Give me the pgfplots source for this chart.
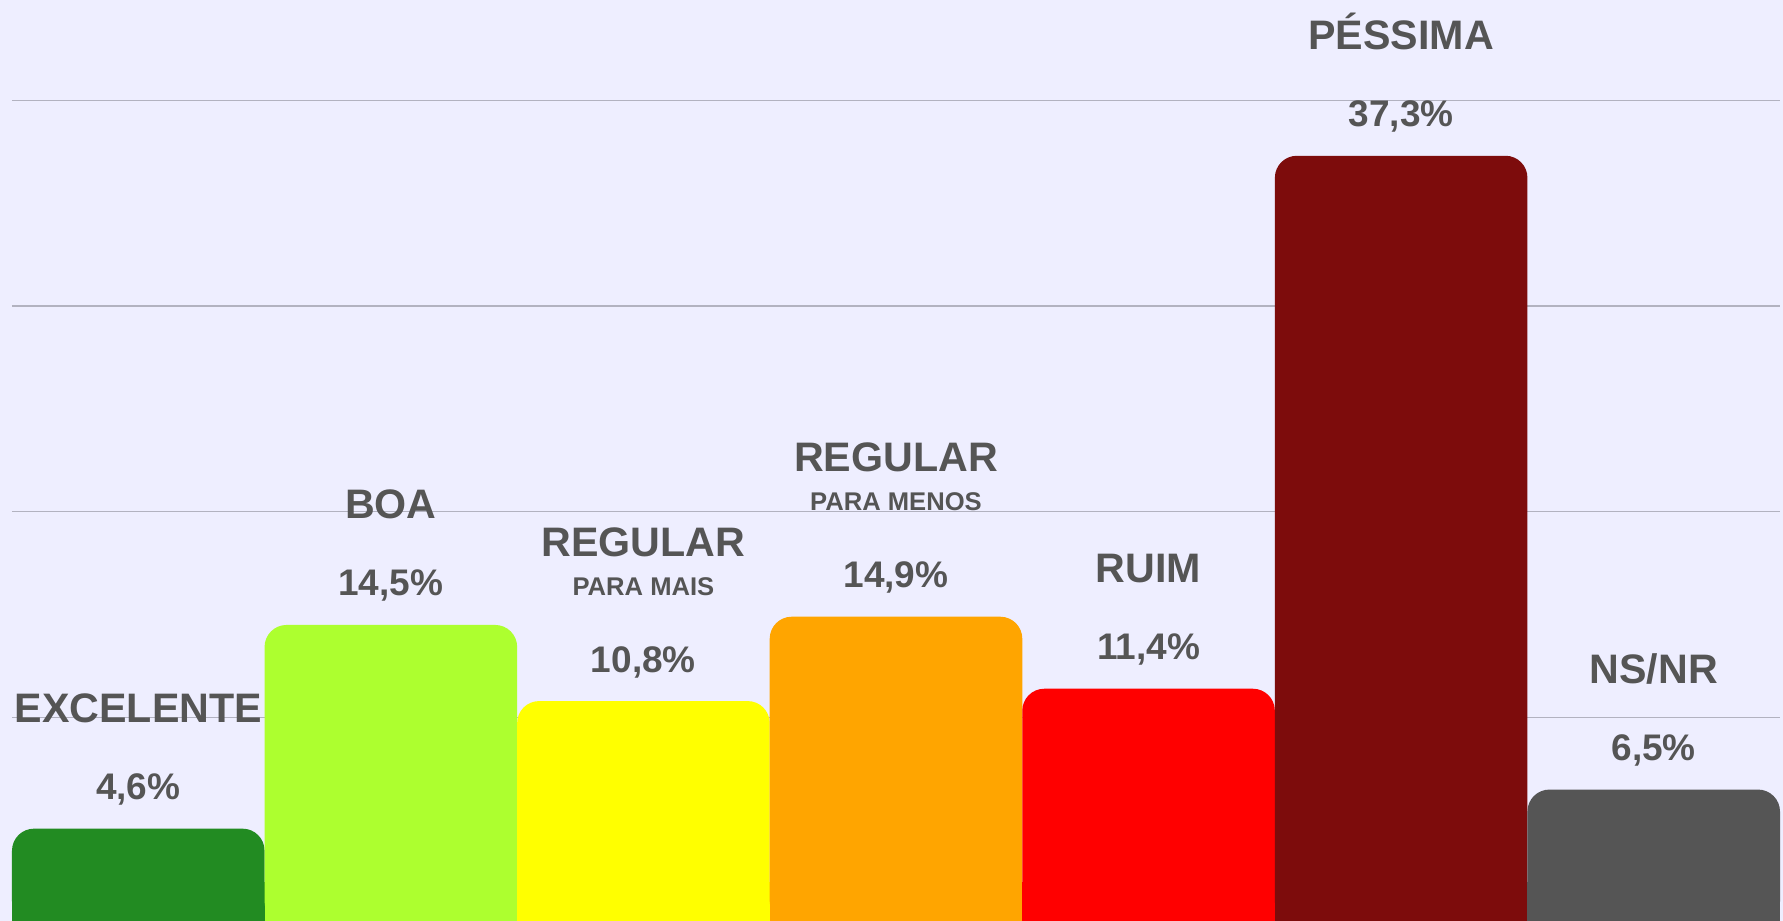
\documentclass[border=0pt]{standalone}
\usepackage{fontspec}
\setmainfont{Liberation Sans}
\usepackage{pgfplots}
\pgfplotsset{compat=1.18}
\usetikzlibrary{backgrounds}

\definecolor{bgc}{HTML}{EEEEFF}
\definecolor{gridc}{HTML}{B2B2C0}
\definecolor{tgray}{HTML}{555555}
\definecolor{cexc}{HTML}{228B22}
\definecolor{cboa}{HTML}{ADFF2F}
\definecolor{cregm}{HTML}{FFFF00}
\definecolor{cregn}{HTML}{FFA500}
\definecolor{cruim}{HTML}{FF0000}
\definecolor{cpes}{HTML}{7D0C0C}
\definecolor{cns}{HTML}{555555}

\newcommand\catf{\fontsize{20.6}{24}\selectfont\bfseries}
\newcommand\valf{\fontsize{18.5}{22}\selectfont\bfseries}
\newcommand\subf{\fontsize{12.8}{15}\selectfont\bfseries}

% one bar: x, value, colour, category, shift of the category line
\newcommand\catbar[5]{%
  \addplot[fill=#3, draw=none, bar shift=0pt, rounded corners=11pt,
    nodes near coords={\valf\pgfmathprintnumber[fixed,precision=1,fixed zerofill,use comma,assume math mode=true]{\pgfplotspointmeta}\%},
    every node near coord/.append style={anchor=base, yshift=14.5pt}]
    coordinates {(#1,#2)};
  % square off the bottom corners
  \addplot[fill=#3, draw=none, bar shift=0pt] coordinates {(#1,2)};
  \addplot[draw=none, fill=none, bar shift=0pt,
    nodes near coords={\catf #4},
    every node near coord/.append style={anchor=base, yshift=#5}]
    coordinates {(#1,#2)};
}
\newcommand\subline[3]{%
  \addplot[draw=none, fill=none, bar shift=0pt,
    nodes near coords={\subf #3},
    every node near coord/.append style={anchor=base, yshift=53pt}]
    coordinates {(#1,#2)};
}

\begin{document}
\begin{tikzpicture}
\begin{axis}[
  x=126.3pt, y=10.29pt,
  xmin=-0.5, xmax=6.5, ymin=0, ymax=44.87,
  ybar, bar width=1, bar shift=0pt,
  clip=false,
  axis line style={draw=none},
  major tick length=0pt,
  xtick=\empty, ytick={10,20,30,40}, yticklabels={},
  ymajorgrids, grid style={gridc, line width=0.7pt},
  every node near coord/.append style={inner sep=0pt, text=tgray},
]
\catbar{0}{4.6}{cexc}{EXCELENTE}{53.25pt}
\catbar{1}{14.5}{cboa}{BOA}{53.25pt}
\catbar{2}{10.8}{cregm}{REGULAR}{72.5pt}
\subline{2}{10.8}{PARA MAIS}
\catbar{3}{14.9}{cregn}{REGULAR}{72.5pt}
\subline{3}{14.9}{PARA MENOS}
\catbar{4}{11.4}{cruim}{RUIM}{53.25pt}
\catbar{5}{37.3}{cpes}{PÉSSIMA}{53.25pt}
\catbar{6}{6.5}{cns}{NS/NR}{53.25pt}
\coordinate (bl) at (axis cs:-0.5,0.12);
\coordinate (tr) at (axis cs:6.5,44.87);
\end{axis}
\begin{scope}[on background layer]
\fill[bgc] ([xshift=-6pt]bl) rectangle ([xshift=1.5pt]tr);
\end{scope}
\pgfresetboundingbox
\path[use as bounding box] ([xshift=-6pt]bl) rectangle ([xshift=1.5pt]tr);
\end{tikzpicture}
\end{document}
